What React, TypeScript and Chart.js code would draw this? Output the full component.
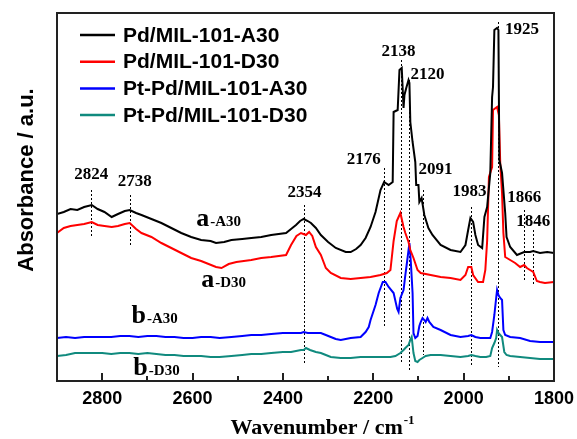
import React, { useEffect, useRef } from 'react';
import { Chart, registerables } from 'chart.js';

Chart.register(...registerables);

const seriesLabels = ['Pd/MIL-101-A30', 'Pd/MIL-101-D30', 'Pt-Pd/MIL-101-A30', 'Pt-Pd/MIL-101-D30'];
const seriesColors = ['#000000', '#ff0000', '#0000ff', '#108a7e'];

// [wavenumber, absorbance (a.u., offset-stacked)]
const pdA30: [number, number][] = [
  [2900, 167], [2885, 169], [2870, 172], [2855, 171], [2840, 174], [2823, 176], [2810, 172], [2795, 169],
  [2779, 164], [2765, 167], [2750, 170], [2739, 171], [2725, 168], [2713, 166], [2691, 162], [2669, 158],
  [2647, 153], [2625, 148], [2603, 144], [2581, 141], [2560, 140], [2548, 138], [2530, 139], [2514, 141],
  [2490, 142], [2470, 143], [2448, 144], [2426, 146], [2393, 148], [2382, 152], [2371, 156], [2362, 160],
  [2354, 162], [2345, 160], [2338, 158], [2327, 153], [2316, 146], [2300, 139], [2283, 133], [2261, 129],
  [2250, 129], [2238, 132], [2228, 136], [2217, 143], [2206, 154], [2195, 169], [2184, 191], [2176, 199],
  [2166, 196], [2157, 199], [2155, 269], [2146, 271], [2142, 311], [2137, 313], [2133, 273], [2131, 286],
  [2127, 293], [2122, 301], [2120, 298], [2118, 259], [2113, 239], [2107, 219], [2105, 196], [2100, 196],
  [2098, 179], [2093, 183], [2087, 166], [2078, 153], [2069, 146], [2051, 136], [2029, 131], [2007, 129],
  [1996, 136], [1990, 151], [1985, 163], [1979, 159], [1974, 146], [1968, 136], [1959, 133], [1954, 164],
  [1948, 174], [1941, 208], [1937, 284], [1935, 294], [1932, 351], [1926, 353], [1923, 351], [1921, 221],
  [1915, 208], [1908, 168], [1905, 144], [1897, 134], [1882, 126], [1866, 129], [1853, 129], [1846, 130],
  [1831, 128], [1815, 129], [1800, 128],
];

const pdD30: [number, number][] = [
  [2900, 148], [2885, 153], [2870, 155], [2855, 156], [2840, 157], [2823, 159], [2810, 156], [2795, 155],
  [2779, 154], [2765, 155], [2750, 157], [2739, 158], [2725, 152], [2713, 148], [2691, 144], [2669, 138],
  [2647, 133], [2625, 128], [2603, 123], [2581, 120], [2570, 118], [2548, 114], [2536, 113], [2520, 117],
  [2503, 119], [2470, 121], [2448, 123], [2426, 124], [2393, 126], [2382, 136], [2370, 145], [2360, 148],
  [2349, 146], [2342, 149], [2335, 145], [2327, 134], [2316, 126], [2305, 113], [2294, 108], [2272, 103],
  [2250, 102], [2228, 103], [2206, 104], [2184, 106], [2170, 108], [2162, 111], [2155, 140], [2148, 160],
  [2140, 168], [2133, 154], [2129, 148], [2122, 139], [2118, 131], [2111, 123], [2102, 111], [2095, 108],
  [2073, 106], [2051, 104], [2029, 103], [2007, 101], [1996, 106], [1990, 114], [1983, 114], [1979, 106],
  [1968, 99], [1957, 99], [1952, 111], [1948, 140], [1944, 204], [1937, 214], [1935, 271], [1926, 274],
  [1922, 266], [1919, 218], [1915, 188], [1912, 148], [1908, 124], [1897, 121], [1886, 118], [1875, 114],
  [1866, 116], [1860, 113], [1853, 111], [1846, 109], [1838, 100], [1831, 99], [1820, 98], [1800, 99],
];

const ptPdA30: [number, number][] = [
  [2900, 43], [2880, 44], [2860, 43], [2840, 44], [2820, 44], [2801, 44], [2780, 44], [2760, 45],
  [2740, 45], [2720, 44], [2700, 45], [2680, 45], [2660, 44], [2640, 44], [2620, 43], [2600, 43],
  [2581, 44], [2560, 44], [2540, 43], [2514, 44], [2490, 45], [2470, 46], [2448, 46], [2426, 47],
  [2400, 48], [2382, 48], [2360, 48], [2354, 49], [2345, 48], [2327, 48], [2316, 48], [2305, 46],
  [2294, 44], [2283, 42], [2272, 41], [2261, 42], [2250, 43], [2228, 44], [2217, 49], [2210, 54],
  [2206, 61], [2195, 76], [2188, 88], [2179, 99], [2173, 99], [2166, 94], [2155, 88], [2147, 72],
  [2144, 69], [2140, 83], [2133, 91], [2129, 106], [2125, 120], [2120, 138], [2117, 120], [2113, 88],
  [2111, 48], [2107, 43], [2102, 45], [2098, 55], [2095, 59], [2091, 63], [2087, 61], [2084, 59],
  [2080, 63], [2076, 59], [2067, 54], [2051, 51], [2029, 46], [2007, 44], [1990, 45], [1983, 46],
  [1974, 44], [1963, 43], [1950, 43], [1941, 43], [1937, 49], [1932, 66], [1928, 83], [1926, 91],
  [1923, 86], [1919, 83], [1915, 81], [1912, 51], [1908, 46], [1897, 44], [1875, 43], [1853, 40],
  [1831, 39], [1800, 39],
];

const ptPdD30: [number, number][] = [
  [2900, 25], [2880, 26], [2860, 28], [2840, 28], [2820, 28], [2800, 28], [2780, 27], [2760, 28],
  [2740, 28], [2720, 27], [2700, 28], [2680, 27], [2660, 26], [2640, 26], [2620, 25], [2600, 25],
  [2581, 25], [2560, 24], [2540, 24], [2514, 25], [2490, 26], [2470, 27], [2448, 27], [2426, 28],
  [2400, 29], [2382, 29], [2360, 31], [2354, 31], [2349, 33], [2340, 31], [2327, 29], [2316, 28],
  [2305, 26], [2294, 24], [2272, 23], [2250, 23], [2228, 24], [2206, 24], [2184, 24], [2162, 24],
  [2151, 25], [2140, 28], [2133, 31], [2129, 33], [2122, 36], [2118, 41], [2115, 44], [2111, 28],
  [2107, 20], [2102, 19], [2098, 21], [2091, 23], [2084, 25], [2073, 26], [2051, 26], [2029, 25],
  [2007, 24], [1990, 25], [1983, 26], [1974, 25], [1963, 24], [1950, 24], [1941, 25], [1937, 33],
  [1932, 38], [1928, 43], [1926, 51], [1923, 48], [1919, 46], [1915, 44], [1910, 29], [1905, 26],
  [1897, 25], [1875, 24], [1853, 23], [1831, 22], [1800, 22],
];

const seriesData = [pdA30, pdD30, ptPdA30, ptPdD30];

// Peak annotations
const peakWn = [2824, 2738, 2354, 2176, 2138, 2120, 2091, 1983, 1925, 1866, 1846];
const peakLabelWn = [2824, 2728, 2352, 2221, 2144, 2080, 2062, 1987, 1871, 1866, 1846];
const peakLabelAbs = [206, 199, 188, 221, 329, 306, 211, 189, 351, 183, 159];
const peakLineTop = [191, 186, 176, 213, 321, 301, 191, 174, 359, 171, 151];
const peakLineBottom = [144, 136, 18, 54, 18, 11, 26, 16, 14, 99, 96];

// Sample labels
const sampleMain = ['a', 'a', 'b', 'b'];
const sampleSub = ['-A30', '-D30', '-A30', '-D30'];
const sampleWn = [2592, 2581, 2735, 2731];
const sampleAbs = [155, 94, 58, 6];

const xTitle = 'Wavenumber / cm';
const xTitleSup = '-1';
const yTitle = 'Absorbance / a.u.';

const xMin = 1800;
const xMax = 2900;
const xMinorStep = 100;
const xMajorStep = 200;
const yMin = 0;
const yMax = 368;

const SERIF = '"Liberation Serif", "Times New Roman", serif';
const SANS = '"Liberation Sans", Arial, sans-serif';

const decorPlugin = {
  id: 'decor',
  beforeDatasetsDraw(chart: any) {
    const { ctx, scales } = chart;
    const xs = scales.x;
    const ys = scales.y;
    ctx.save();
    ctx.strokeStyle = '#000';
    ctx.lineWidth = 1;
    ctx.setLineDash([2, 2]);
    peakWn.forEach((w, i) => {
      const x = Math.round(xs.getPixelForValue(w)) + 0.5;
      ctx.beginPath();
      ctx.moveTo(x, ys.getPixelForValue(peakLineTop[i]));
      ctx.lineTo(x, ys.getPixelForValue(peakLineBottom[i]));
      ctx.stroke();
    });
    ctx.restore();
  },
  afterDraw(chart: any) {
    const { ctx, scales, chartArea } = chart;
    const xs = scales.x;
    const ys = scales.y;
    ctx.save();
    // frame
    ctx.strokeStyle = '#222';
    ctx.lineWidth = 2;
    ctx.setLineDash([]);
    ctx.strokeRect(chartArea.left, chartArea.top, chartArea.right - chartArea.left, chartArea.bottom - chartArea.top);

    // inward tick marks on the bottom axis
    ctx.lineWidth = 2;
    ctx.strokeStyle = '#222';
    for (let v = xMin; v <= xMax; v += xMinorStep) {
      const x = Math.round(xs.getPixelForValue(v));
      const len = v % xMajorStep === 0 ? 8 : 5;
      ctx.beginPath();
      ctx.moveTo(x, chartArea.bottom);
      ctx.lineTo(x, chartArea.bottom - len);
      ctx.stroke();
    }

    // peak labels
    ctx.fillStyle = '#000';
    ctx.font = `bold 17px ${SERIF}`;
    ctx.textAlign = 'center';
    ctx.textBaseline = 'middle';
    peakWn.forEach((w, i) => {
      ctx.fillText(String(w), xs.getPixelForValue(peakLabelWn[i]), ys.getPixelForValue(peakLabelAbs[i]));
    });

    // sample labels
    ctx.textAlign = 'left';
    ctx.textBaseline = 'alphabetic';
    sampleMain.forEach((m, i) => {
      const x = xs.getPixelForValue(sampleWn[i]);
      const y = ys.getPixelForValue(sampleAbs[i]);
      ctx.font = `bold 26px ${SERIF}`;
      ctx.fillText(m, x, y);
      const w = ctx.measureText(m).width;
      ctx.font = `bold 15px ${SERIF}`;
      ctx.fillText(sampleSub[i], x + w + 1, y);
    });

    // legend
    ctx.font = `bold 21px ${SANS}`;
    ctx.textBaseline = 'middle';
    seriesLabels.forEach((lab, i) => {
      const y = 35 + i * 26.7;
      ctx.strokeStyle = seriesColors[i];
      ctx.lineWidth = 2.5;
      ctx.beginPath();
      ctx.moveTo(80, y);
      ctx.lineTo(115, y);
      ctx.stroke();
      ctx.fillStyle = '#000';
      ctx.fillText(lab, 123, y + 1);
    });

    // x title
    ctx.font = `bold 22px ${SERIF}`;
    ctx.textBaseline = 'alphabetic';
    const xtW = ctx.measureText(xTitle).width;
    ctx.font = `bold 13px ${SERIF}`;
    const supW = ctx.measureText(xTitleSup).width;
    const cx = (chartArea.left + chartArea.right) / 2 + 17;
    const startX = cx - (xtW + supW + 1) / 2;
    ctx.font = `bold 22px ${SERIF}`;
    ctx.fillText(xTitle, startX, 434);
    ctx.font = `bold 13px ${SERIF}`;
    ctx.fillText(xTitleSup, startX + xtW + 1, 424);

    // y title
    ctx.translate(27, 180);
    ctx.rotate(-Math.PI / 2);
    ctx.font = `bold 22px ${SANS}`;
    ctx.textAlign = 'center';
    ctx.textBaseline = 'middle';
    ctx.fillText(yTitle, 0, 0);
    ctx.restore();
  },
};

export default function App() {
  const ref = useRef<HTMLCanvasElement | null>(null);
  useEffect(() => {
    if (!ref.current) return;
    const chart = new Chart(ref.current, {
      type: 'line',
      data: {
        datasets: seriesData.map((d, i) => ({
          label: seriesLabels[i],
          data: d.map(([x, y]) => ({ x, y })),
          borderColor: seriesColors[i],
          borderWidth: 2,
          pointRadius: 0,
          tension: 0,
          fill: false,
        })),
      },
      options: {
        animation: false,
        responsive: false,
        devicePixelRatio: 1,
        layout: { padding: { left: 0, top: 13, right: 23, bottom: 0 } },
        plugins: { legend: { display: false }, tooltip: { enabled: false } },
        scales: {
          x: {
            type: 'linear',
            reverse: true,
            min: xMin,
            max: xMax,
            afterFit: (s: any) => { s.height = 58; s.paddingLeft = 0; s.paddingRight = 0; },
            border: { display: false },
            grid: { display: false, drawOnChartArea: false, drawTicks: false },
            ticks: {
              stepSize: xMinorStep,
              autoSkip: false,
              maxRotation: 0,
              padding: 7,
              color: '#000',
              font: { family: SANS, size: 18, weight: 'bold' },
              callback: (v: any) => (Number(v) % xMajorStep === 0 ? String(v) : ''),
            },
            title: { display: false },
          },
          y: {
            min: yMin,
            max: yMax,
            afterFit: (s: any) => { s.width = 57; s.paddingTop = 0; s.paddingBottom = 0; },
            border: { display: false },
            grid: { drawOnChartArea: false, drawTicks: false },
            ticks: { display: false },
            title: { display: false },
          },
        },
      },
      plugins: [decorPlugin],
    } as any);
    return () => chart.destroy();
  }, []);
  return (
    <div style={{ position: 'fixed', left: 0, top: 0, width: 577, height: 439 }}>
      <canvas ref={ref} width={577} height={439} />
    </div>
  );
}
